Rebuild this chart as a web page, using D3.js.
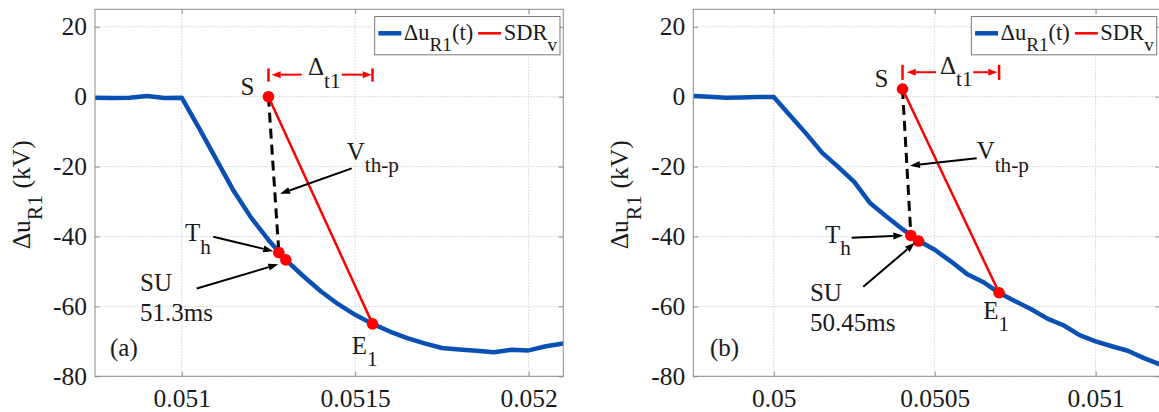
<!DOCTYPE html>
<html><head><meta charset="utf-8">
<script src="https://cdn.jsdelivr.net/npm/d3@7"></script>
<style>
body{margin:0;background:#fff}
svg{display:block}
svg text, svg tspan{font-family:"Liberation Serif","Tinos","DejaVu Serif",serif !important;fill:#1a1a1a}
</style>
</head><body>
<svg id="c" width="1159" height="412" font-family="Liberation Serif, DejaVu Serif, serif"></svg>
<script>
// ---------------- data ----------------
const timeA = [0.05075,0.0508,0.05085,0.0509,0.05095,0.051,0.05105,0.0511,0.05115,0.0512,0.05125,0.0513,0.05135,0.0514,0.05145,0.0515,0.05155,0.0516,0.05165,0.0517,0.05175,0.0518,0.05185,0.0519,0.05195,0.052,0.05205,0.0521];
const voltA = [-0.3,-0.4,-0.3,0.2,-0.4,-0.3,-9.0,-18.0,-27.0,-34.6,-41.0,-46.7,-51.3,-55.6,-59.3,-62.4,-65.0,-67.2,-69.1,-70.6,-71.9,-72.3,-72.7,-73.1,-72.4,-72.6,-71.4,-70.6];
const timeB = [0.04975,0.0498,0.04985,0.0499,0.04995,0.05,0.05005,0.0501,0.05015,0.0502,0.05025,0.0503,0.05035,0.0504,0.05045,0.0505,0.05055,0.0506,0.05065,0.0507,0.05075,0.0508,0.05085,0.0509,0.05095,0.051,0.05105,0.0511,0.05115,0.0512];
const voltB = [0.2,0.0,-0.3,-0.2,-0.1,-0.1,-5.3,-10.5,-16.0,-20.1,-24.4,-30.5,-34.3,-37.9,-41.2,-43.8,-47.1,-50.7,-53.0,-56.1,-58.5,-60.8,-63.5,-65.4,-68.2,-70.0,-71.4,-72.7,-74.8,-76.6];

const yTickValues = [-80,-60,-40,-20,0,20];
const yTickLabels = ["-80","-60","-40","-20","0","20"];
const xTickValuesA = [0.051,0.0515,0.052];
const xTickLabelsA = ["0.051","0.0515","0.052"];
const xTickValuesB = [0.05,0.0505,0.051];
const xTickLabelsB = ["0.05","0.0505","0.051"];

// key points order: S, Th, SU, E1
const keyTimeA = [0.05125,0.05128,0.0513,0.05155];
const keyVoltA = [0,-44.6,-46.7,-65.0];
const keyTimeB = [0.0504,0.050426,0.05045,0.0507];
const keyVoltB = [2.2,-39.7,-41.3,-56.1];

const seriesNames = ["Δu","R1","(t)"];
const sdrName = ["SDR","v"];

// ---------------- drawing ----------------
const svg = d3.select("#c");
const BLUE = "#0a50b4", RED = "#ff0000", AX = "#8c8c8c";
const FONT = "'Liberation Serif','Tinos','DejaVu Serif',serif";
const FT = 25.5, FA = 25, FL = 22.5;

function rich(g, x, y, parts, size, opts={}) {
  const t = g.append("text").attr("x", x).attr("y", y).attr("font-size", size)
    .style("font-family", FONT)
    .attr("text-anchor", opts.anchor || "start");
  if (opts.color) t.style("fill", opts.color);
  if (opts.transform) t.attr("transform", opts.transform);
  const shift = size * 0.5;
  let cur = 0;
  parts.forEach(([s, sub]) => {
    const target = sub ? shift : 0;
    t.append("tspan").attr("dy", target - cur).attr("font-size", sub ? size * 0.85 : size).text(s);
    cur = target;
  });
  return t;
}

function arrow(g, x1, y1, x2, y2, color, w, hl, hw) {
  const a = Math.atan2(y2 - y1, x2 - x1);
  const bx = x2 - hl * Math.cos(a), by = y2 - hl * Math.sin(a);
  g.append("line").attr("x1", x1).attr("y1", y1).attr("x2", bx).attr("y2", by)
    .attr("stroke", color).attr("stroke-width", w);
  const px = Math.sin(a) * hw / 2, py = -Math.cos(a) * hw / 2;
  g.append("polygon").attr("points", `${x2},${y2} ${bx + px},${by + py} ${bx - px},${by - py}`)
    .attr("fill", color);
}

function panel(cfg) {
  const top = 9.3, bottom = 376.3;
  const x = d3.scaleLinear().domain(cfg.xDomain).range([cfg.left, cfg.right]);
  const y = d3.scaleLinear().domain([-80, 25]).range([bottom, top]);
  const g = svg.append("g");

  const clipId = "clip" + cfg.id;
  svg.append("clipPath").attr("id", clipId).append("rect")
    .attr("x", cfg.left).attr("y", top).attr("width", cfg.right - cfg.left).attr("height", bottom - top);

  // grid
  const grid = g.append("g").attr("stroke", "#c8c8c8").attr("stroke-width", 0.8).attr("stroke-dasharray", "1.5,1.5");
  grid.selectAll(".gx").data(cfg.xTicks).join("line")
    .attr("x1", d => x(d)).attr("x2", d => x(d)).attr("y1", top).attr("y2", bottom);
  grid.selectAll(".gy").data(yTickValues).join("line")
    .attr("x1", cfg.left).attr("x2", cfg.right).attr("y1", d => y(d)).attr("y2", d => y(d));

  // axes
  const ax = g.append("g").attr("transform", `translate(${cfg.left},0)`)
    .call(d3.axisLeft(y).tickValues(yTickValues).tickFormat((d, i) => yTickLabels[i]).tickSize(-4.7).tickPadding(8));
  const bx = g.append("g").attr("transform", `translate(0,${bottom})`)
    .call(d3.axisBottom(x).tickValues(cfg.xTicks).tickFormat((d, i) => cfg.xLabels[i]).tickSize(-4.7).tickPadding(12.5));
  const tx = g.append("g").attr("transform", `translate(0,${top})`)
    .call(d3.axisTop(x).tickValues(cfg.xTicks).tickFormat("").tickSize(-4.7));
  const rx = g.append("g").attr("transform", `translate(${cfg.right},0)`)
    .call(d3.axisRight(y).tickValues(yTickValues).tickFormat("").tickSize(-4.7));
  [ax, bx, tx, rx].forEach(a => {
    a.attr("font-family", FONT);
    a.select(".domain").remove();
    a.selectAll(".tick line").attr("stroke", AX);
    a.selectAll("text").attr("font-size", FT).style("font-family", FONT).style("fill", "#1a1a1a");
  });

  // y label
  rich(g, 0, 0, [["Δu", false], ["R1", true], [" (kV)", false]], FT,
    {anchor: "middle", transform: `translate(${cfg.left - 65.5},${(top + bottom) / 2 + 2}) rotate(-90)`});

  const plot = g.append("g").attr("clip-path", `url(#${clipId})`);
  const line = d3.line().x((d, i) => x(cfg.times[i])).y(d => y(d));
  plot.append("path").datum(cfg.volts).attr("d", line).attr("fill", "none")
    .attr("stroke", BLUE).attr("stroke-width", 4.5).attr("stroke-linejoin", "round");

  const kx = cfg.keyT.map(t => x(t)), ky = cfg.keyV.map(v => y(v));
  plot.append("line").attr("x1", kx[0]).attr("y1", ky[0]).attr("x2", kx[1]).attr("y2", ky[1])
    .attr("stroke", "#000").attr("stroke-width", 3).attr("stroke-dasharray", "10,6");
  plot.append("line").attr("x1", kx[0]).attr("y1", ky[0]).attr("x2", kx[3]).attr("y2", ky[3])
    .attr("stroke", RED).attr("stroke-width", 2.5);
  plot.selectAll("circle").data(cfg.keyT).join("circle")
    .attr("cx", (d, i) => kx[i]).attr("cy", (d, i) => ky[i]).attr("r", 5.8).attr("fill", RED);

  const an = cfg.ann;
  const P = (t, v) => [x(t), y(v)];
  rich(g, kx[0] - 14, ky[0] - 1.5, [["S", false]], FA, {anchor: "end"});
  let p = P(...an.V);
  rich(g, p[0], p[1], [["V", false], ["th-p", true]], FA);
  let a1 = P(...an.Va[0]), a2 = P(...an.Va[1]);
  arrow(g, a1[0], a1[1], a2[0], a2[1], "#000", 2, 10, 7);
  p = P(...an.T);
  rich(g, p[0], p[1], [["T", false], ["h", true]], FA);
  a1 = P(...an.Ta[0]); a2 = P(...an.Ta[1]);
  arrow(g, a1[0], a1[1], a2[0], a2[1], "#000", 2, 10, 7);
  p = P(...an.SU);
  rich(g, p[0], p[1], [["SU", false]], FA);
  p = P(an.SU[0], an.SU2);
  rich(g, p[0], p[1], [[cfg.suText, false]], FA);
  a1 = P(...an.SUa[0]); a2 = P(...an.SUa[1]);
  arrow(g, a1[0], a1[1], a2[0], a2[1], "#000", 2, 10, 7);
  p = P(...an.tag);
  rich(g, p[0], p[1], [[cfg.tag, false]], FA);
  p = P(...an.E);
  rich(g, p[0], p[1], [["E", false], ["1", true]], FA);
  const yA = y(an.dArrowV), yb1 = y(an.dBar[0]), yb2 = y(an.dBar[1]);
  [kx[0], kx[3]].forEach(xx => g.append("line").attr("x1", xx).attr("x2", xx).attr("y1", yb1).attr("y2", yb2)
    .attr("stroke", RED).attr("stroke-width", 2.5));
  arrow(g, x(an.dL[0]), yA, x(an.dL[1]), yA, RED, 2, 9, 7);
  arrow(g, x(an.dR[0]), yA, x(an.dR[1]), yA, RED, 2, 9, 7);
  p = P(...an.D);
  rich(g, p[0], p[1], [["Δ", false], ["t1", true]], FA, {color: RED});

  // legend
  const lg = g.append("g");
  const box = lg.append("rect").attr("y", 16.5).attr("height", 38.3).attr("fill", "#fff")
    .attr("stroke", "#7a7a7a").attr("stroke-width", 1);
  const ly = 33.3, lb = 39.5;
  const s1 = lg.append("line").attr("stroke", BLUE).attr("stroke-width", 4.5);
  const t1 = rich(lg, 0, lb, [[seriesNames[0], false], [seriesNames[1], true], [seriesNames[2], false]], FL);
  const s2 = lg.append("line").attr("stroke", RED).attr("stroke-width", 2.5);
  const t2 = rich(lg, 0, lb, [[sdrName[0], false], [sdrName[1], true]], FL);
  const w1 = t1.node().getComputedTextLength(), w2 = t2.node().getComputedTextLength();
  const boxW = 3.7 + 23 + 2.5 + w1 + 5 + 23 + 2.5 + w2 + 3;
  const x0 = cfg.right - 3.3 - boxW;
  box.attr("x", x0).attr("width", boxW);
  s1.attr("x1", x0 + 3.7).attr("x2", x0 + 26.7).attr("y1", ly).attr("y2", ly);
  t1.attr("x", x0 + 29.2);
  const xs2 = x0 + 29.2 + w1 + 5;
  s2.attr("x1", xs2).attr("x2", xs2 + 23).attr("y1", ly).attr("y2", ly);
  t2.attr("x", xs2 + 25.5);

  g.append("rect").attr("x", cfg.left).attr("y", top).attr("width", cfg.right - cfg.left).attr("height", bottom - top)
    .attr("fill", "none").attr("stroke", AX).attr("stroke-width", 1);
}

panel({
  id: "a", left: 95, right: 563.3, xDomain: [0.05075, 0.0521],
  times: timeA, volts: voltA, xTicks: xTickValuesA, xLabels: xTickLabelsA,
  keyT: keyTimeA, keyV: keyVoltA, suText: "51.3ms", tag: "(a)",
  ann: {
    V: [0.0514756, -18.1], Va: [[0.05149, -20.5], [0.0512833, -27.8]],
    T: [0.0510094, -41.3], Ta: [[0.051091, -40.1], [0.051264, -44.2]],
    SU: [0.0508797, -55.6], SU2: -64.2, SUa: [[0.0510432, -54.9], [0.0512784, -47.96]],
    tag: [0.0507932, -74.2], E: [0.05149, -73.6],
    dArrowV: 6.3, dBar: [8.1, 4.3], dL: [0.0513458, 0.0512594], dR: [0.0514612, 0.0515477],
    D: [0.051364, 6.2]
  }
});

panel({
  id: "b", left: 693.3, right: 1160, xDomain: [0.04975, 0.0512],
  times: timeB, volts: voltB, xTicks: xTickValuesB, xLabels: xTickLabelsB,
  keyT: keyTimeB, keyV: keyVoltB, suText: "50.45ms", tag: "(b)",
  ann: {
    V: [0.0506304, -17.9], Va: [[0.0506304, -17.6], [0.0504232, -19.75]],
    T: [0.0501591, -41.8], Ta: [[0.0502421, -40.35], [0.0504024, -39.7]],
    SU: [0.0501125, -58.5], SU2: -67.1, SUa: [[0.0502781, -54.4], [0.0504387, -41.8]],
    tag: [0.0498019, -74.2], E: [0.0506509, -63.6],
    dArrowV: 7.0, dBar: [9.1, 4.8], dL: [0.0505041, 0.0504131], dR: [0.0506198, 0.0506944],
    D: [0.0505163, 6.5]
  }
});
</script>
</body></html>
